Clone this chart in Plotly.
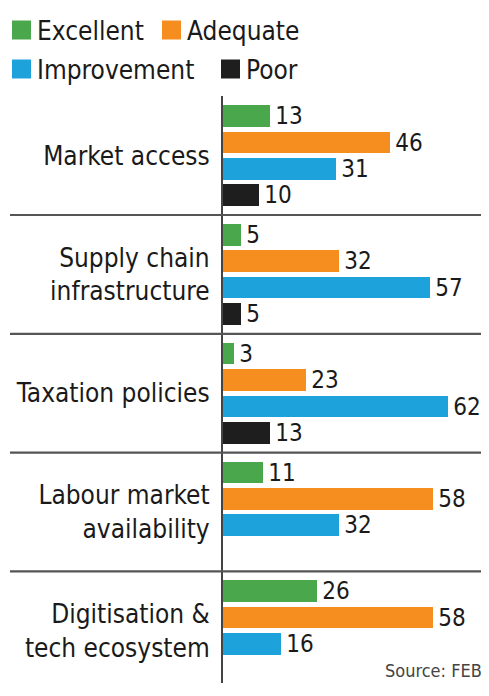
import plotly.graph_objects as go

# ---- data ----
categories = ["Market access", "Supply chain<br>infrastructure", "Taxation policies",
              "Labour market<br>availability", "Digitisation &<br>tech ecosystem"]
series_names = ["Excellent", "Adequate", "Improvement", "Poor"]
excellent = [13, 5, 3, 11, 26]
adequate = [46, 32, 23, 58, 58]
improvement = [31, 57, 62, 32, 16]
poor = [10, 5, 13, None, None]
colors = ["#4ba74b", "#f68d1f", "#1ea2dc", "#1e1e1e"]
source_text = "Source: FEBI"

FONT = "DejaVu Sans Condensed, Liberation Sans Narrow, Arial Narrow, sans-serif"
FS = 26
FS_VAL = 24
# page offset caused by the default body margin
OX, OY = 8, 8
W, H = 489 - OX, 696 - OY
ML, MR, MT, MB = 223 - OX, 0, 96 - OY, 13
PW, PH = W - ML - MR, H - MT - MB

GROUP = 4.5  # slots per group
Y_TOP, Y_BOT = -0.758, 21.48
X_MAX = PW / 3.629

def px_x(p):  # page pixel -> paper
    return (p - OX - ML) / PW

def px_y(p):
    return 1 - (p - OY - MT) / PH

def data_y_to_paper(v):
    return (Y_BOT - v) / (Y_BOT - Y_TOP)

fig = go.Figure()
all_series = [excellent, adequate, improvement, poor]
for i, (name, vals, col) in enumerate(zip(series_names, all_series, colors)):
    ys, xs = [], []
    for g, v in enumerate(vals):
        if v is None:
            continue
        ys.append(g * GROUP + i)
        xs.append(v)
    fig.add_trace(go.Bar(
        x=xs, y=ys, orientation="h", name=name,
        marker=dict(color=col, line=dict(width=0)),
        width=0.82,
        text=[f"\u200a{v}" for v in xs], textposition="outside",
        constraintext="none", cliponaxis=False,
        textfont=dict(family=FONT, size=FS_VAL, color="#1a1a1a"),
        showlegend=False,
    ))

shapes = []
# separators between groups
for g in range(len(categories) - 1):
    yv = data_y_to_paper(g * GROUP + 3.75)
    shapes.append(dict(type="line", xref="paper", yref="paper",
                       x0=px_x(10), x1=1, y0=yv, y1=yv,
                       line=dict(color="#555555", width=2.2)))

annotations = []
# legend built from squares + text (page pixel positions)
legend_pos = [(12, 30), (162, 30), (12, 69), (221, 69)]
for (lx, ly), name, col in zip(legend_pos, series_names, colors):
    shapes.append(dict(type="rect", xref="paper", yref="paper",
                       x0=px_x(lx), x1=px_x(lx + 19), y0=px_y(ly - 9.5), y1=px_y(ly + 9.5),
                       fillcolor=col, line=dict(width=0)))
    annotations.append(dict(text=name, xref="paper", yref="paper",
                            x=px_x(lx + 23), y=px_y(ly + 1), xanchor="left", yanchor="middle",
                            showarrow=False, font=dict(family=FONT, size=FS, color="#1a1a1a")))

annotations.append(dict(text=source_text, xref="paper", yref="paper",
                        x=1, y=0, xanchor="right", yanchor="bottom",
                        showarrow=False, font=dict(family=FONT, size=18, color="#444444")))

fig.update_layout(
    width=W, height=H,
    margin=dict(l=ML, r=MR, t=MT, b=MB, pad=0),
    paper_bgcolor="white", plot_bgcolor="white",
    barmode="overlay", bargap=0,
    showlegend=False,
    shapes=shapes, annotations=annotations,
    xaxis=dict(range=[0, X_MAX], visible=False, fixedrange=True, automargin=False),
    yaxis=dict(range=[Y_BOT, Y_TOP], tickvals=[g * GROUP + 1.5 for g in range(len(categories))],
               ticktext=categories, showgrid=False, zeroline=False,
               showline=True, linecolor="#444444", linewidth=2.2,
               ticks="", ticklabelstandoff=6, automargin=False,
               tickfont=dict(family=FONT, size=FS, color="#1a1a1a"), fixedrange=True),
)

fig.write_html("out.html")
